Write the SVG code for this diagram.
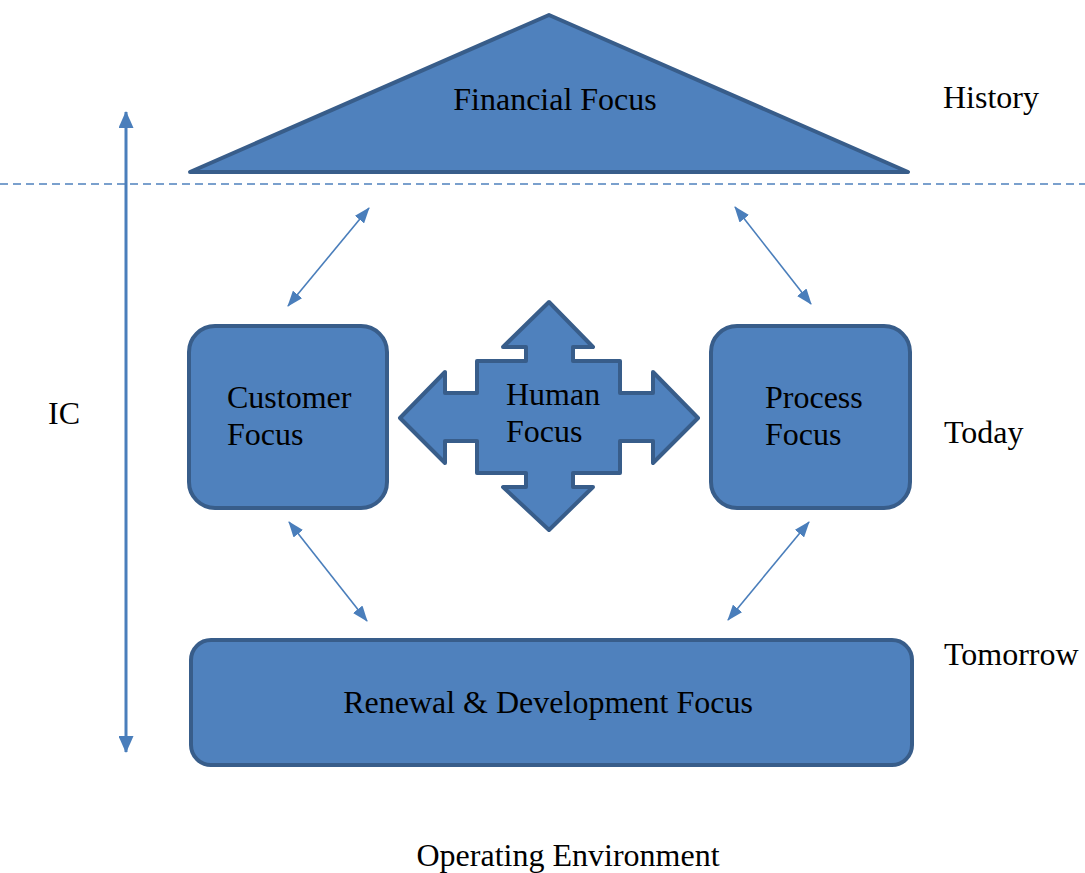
<svg xmlns="http://www.w3.org/2000/svg" width="1085" height="873" viewBox="0 0 1085 873">
<style>
.shape{fill:#4F81BD;stroke:#385D8A;stroke-width:4;stroke-linejoin:round}
.t{font-family:"Liberation Serif","Times New Roman",serif;font-size:32px;fill:#000}
.m{text-anchor:middle}
.conn{stroke:#4A7EBB;stroke-width:1.6;fill:none}
.ic{stroke:#4A7EBB;stroke-width:3;fill:none}
</style>
<defs>
<marker id="ah" markerUnits="userSpaceOnUse" markerWidth="16" markerHeight="12" refX="15" refY="6" orient="auto-start-reverse" viewBox="0 0 16 12">
<path d="M0,0 L16,6 L0,12 z" fill="#4A7EBB"/>
</marker>
<marker id="ahBig" markerUnits="userSpaceOnUse" markerWidth="17" markerHeight="15" refX="16" refY="7.5" orient="auto-start-reverse" viewBox="0 0 17 15">
<path d="M0,0 L17,7.5 L0,15 z" fill="#4A7EBB"/>
</marker>
</defs>
<line x1="0" y1="184" x2="1085" y2="184" stroke="#4F81BD" stroke-width="1.6" stroke-dasharray="8,5"/>
<g id="financial">
<polygon class="shape" points="549,15 908,172 190,172"/>
<text class="t m" x="555" y="110">Financial Focus</text>
</g>
<g id="customer">
<rect class="shape" x="189" y="326" width="198" height="182" rx="26"/>
<text class="t" x="227" y="408">Customer</text>
<text class="t" x="227" y="445">Focus</text>
</g>
<g id="human">
<polygon class="shape" points="549,302 593,347 573,347 573,361 620,361 620,393 653,393 653,372 698,418 653,463 653,441 620,441 620,473 573,473 573,487 593,487 549,530 503,487 526,487 526,473 477,473 477,441 445,441 445,463 400,418 445,372 445,393 477,393 477,361 526,361 526,347 503,347"/>
<text class="t" x="506" y="405">Human</text>
<text class="t" x="506" y="442">Focus</text>
</g>
<g id="process">
<rect class="shape" x="711" y="326" width="199" height="182" rx="26"/>
<text class="t" x="765" y="408">Process</text>
<text class="t" x="765" y="445">Focus</text>
</g>
<g id="renewal">
<rect class="shape" x="191" y="640" width="721" height="125" rx="20"/>
<text class="t m" x="548" y="713">Renewal &amp; Development Focus</text>
</g>
<g id="labels">
<text class="t" x="943" y="108">History</text>
<text class="t" x="48" y="424">IC</text>
<text class="t" x="944" y="443">Today</text>
<text class="t" x="944" y="665">Tomorrow</text>
<text class="t m" x="568" y="866">Operating Environment</text>
</g>
<g id="connectors">
<line class="ic" x1="126" y1="112" x2="126" y2="752" marker-start="url(#ahBig)" marker-end="url(#ahBig)"/>
<line class="conn" x1="369" y1="208" x2="288" y2="306" marker-start="url(#ah)" marker-end="url(#ah)"/>
<line class="conn" x1="735" y1="207" x2="811" y2="304" marker-start="url(#ah)" marker-end="url(#ah)"/>
<line class="conn" x1="289" y1="522" x2="367" y2="621" marker-start="url(#ah)" marker-end="url(#ah)"/>
<line class="conn" x1="809" y1="522" x2="728" y2="620" marker-start="url(#ah)" marker-end="url(#ah)"/>
</g>
</svg>
